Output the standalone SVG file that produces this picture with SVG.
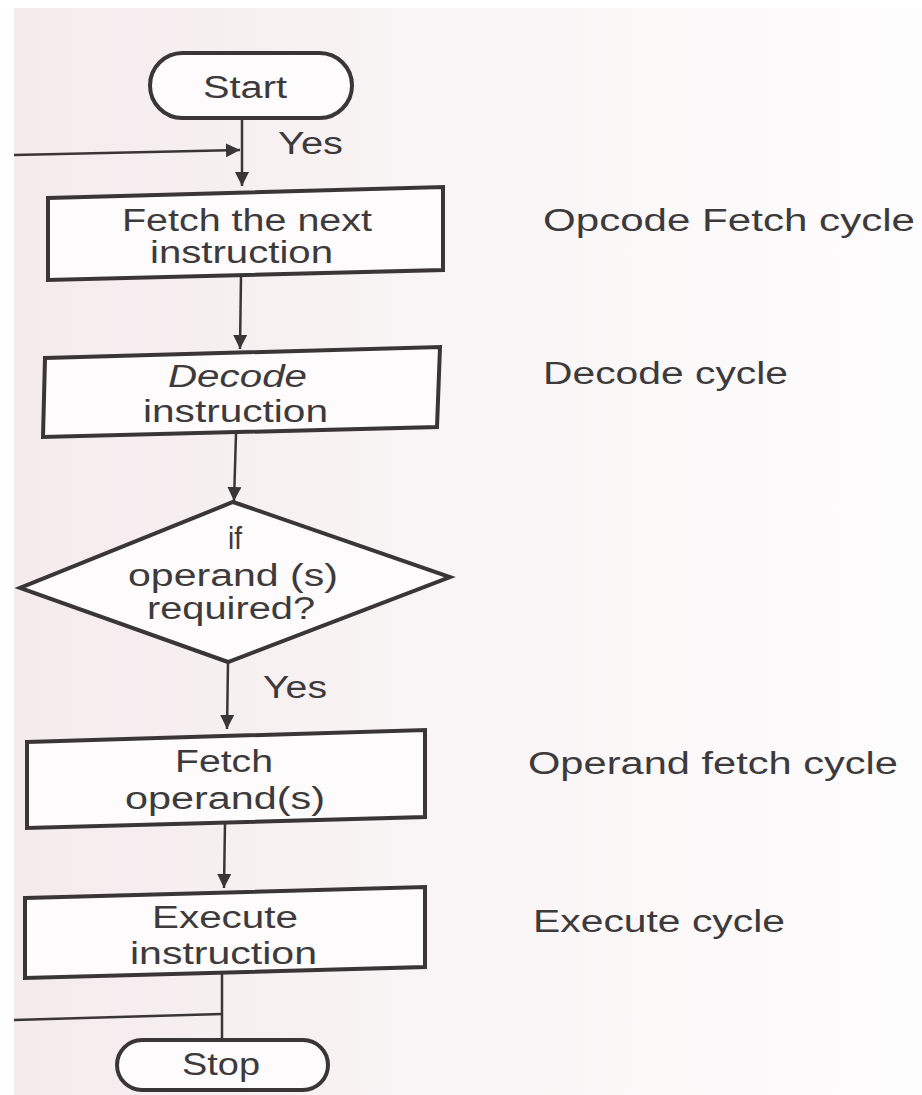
<svg xmlns="http://www.w3.org/2000/svg" width="922" height="1095" viewBox="0 0 922 1095">
  <defs>
    <linearGradient id="paper" x1="0" y1="0" x2="1" y2="0">
      <stop offset="0" stop-color="#f4ebed"/>
      <stop offset="0.45" stop-color="#f9f4f5"/>
      <stop offset="1" stop-color="#fdfcfc"/>
    </linearGradient>
    <marker id="arrow" viewBox="0 0 14 18" refX="14" refY="9" markerWidth="14" markerHeight="18" markerUnits="userSpaceOnUse" orient="auto">
      <path d="M0,2 L14,9 L0,16 Z" fill="#3a3536"/>
    </marker>
    <style>
      .shape { fill: #fdfbfb; stroke: #3a3536; stroke-width: 4; stroke-linejoin: miter; }
      .line { fill: none; stroke: #3a3536; stroke-width: 2.5; }
      .arrow { marker-end: url(#arrow); }
      text { font-family: "Liberation Sans", Arial, sans-serif; font-size: 31px; fill: #3d3a3c; }
      .it { font-style: italic; }
    </style>
  </defs>

  <!-- paper -->
  <rect x="0" y="0" width="922" height="1095" fill="#ffffff"/>
  <rect x="14" y="8" width="908" height="1087" fill="url(#paper)"/>

  <!-- connectors -->
  <g id="connectors">
    <line class="line arrow" x1="242" y1="118" x2="242" y2="186"/>
    <line class="line arrow" x1="14" y1="155" x2="240" y2="150"/>
    <line class="line arrow" x1="241" y1="276" x2="240" y2="349"/>
    <line class="line arrow" x1="236" y1="434" x2="234" y2="501"/>
    <line class="line arrow" x1="228" y1="662" x2="227" y2="729"/>
    <line class="line arrow" x1="225" y1="822" x2="224" y2="888"/>
    <line class="line" x1="222" y1="973" x2="222" y2="1040"/>
    <line class="line" x1="14" y1="1020" x2="222" y2="1014"/>
    <text x="278" y="154" textLength="65" lengthAdjust="spacingAndGlyphs">Yes</text>
    <text x="263" y="698" textLength="64" lengthAdjust="spacingAndGlyphs">Yes</text>
  </g>

  <!-- start terminator -->
  <g id="start">
    <rect class="shape" x="150" y="53" width="202" height="65" rx="32.5" ry="32.5"/>
    <text x="203" y="98" textLength="84" lengthAdjust="spacingAndGlyphs">Start</text>
  </g>

  <!-- opcode fetch -->
  <g id="fetch-instruction">
    <polygon class="shape" points="48,198 443,187 443,270 48,280"/>
    <text x="122" y="231" textLength="250" lengthAdjust="spacingAndGlyphs">Fetch the next</text>
    <text x="150" y="263" textLength="183" lengthAdjust="spacingAndGlyphs">instruction</text>
  </g>

  <!-- decode -->
  <g id="decode-instruction">
    <polygon class="shape" points="45,358 440,347 437,427 43,437"/>
    <text class="it" x="168" y="387" textLength="139" lengthAdjust="spacingAndGlyphs">Decode</text>
    <text x="143" y="422" textLength="185" lengthAdjust="spacingAndGlyphs">instruction</text>
  </g>

  <!-- decision -->
  <g id="operand-check">
    <polygon class="shape" points="233,502 450,577 228,662 20,588"/>
    <text x="228" y="549" textLength="14" lengthAdjust="spacingAndGlyphs">if</text>
    <text x="128" y="586" textLength="210" lengthAdjust="spacingAndGlyphs">operand (s)</text>
    <text x="147" y="619" textLength="168" lengthAdjust="spacingAndGlyphs">required?</text>
  </g>

  <!-- operand fetch -->
  <g id="fetch-operands">
    <polygon class="shape" points="27,742 425,730 425,817 27,828"/>
    <text x="175" y="772" textLength="98" lengthAdjust="spacingAndGlyphs">Fetch</text>
    <text x="125" y="809" textLength="200" lengthAdjust="spacingAndGlyphs">operand(s)</text>
  </g>

  <!-- execute -->
  <g id="execute-instruction">
    <polygon class="shape" points="25,898 425,887 425,967 25,978"/>
    <text x="152" y="928" textLength="146" lengthAdjust="spacingAndGlyphs">Execute</text>
    <text x="130" y="964" textLength="187" lengthAdjust="spacingAndGlyphs">instruction</text>
  </g>

  <!-- stop terminator -->
  <g id="stop">
    <rect class="shape" x="117" y="1040" width="211" height="50" rx="25" ry="25"/>
    <text x="182" y="1075" textLength="78" lengthAdjust="spacingAndGlyphs">Stop</text>
  </g>

  <!-- machine cycle names -->
  <g id="cycle-labels">
    <text x="543" y="231" textLength="372" lengthAdjust="spacingAndGlyphs">Opcode Fetch cycle</text>
    <text x="543" y="384" textLength="245" lengthAdjust="spacingAndGlyphs">Decode cycle</text>
    <text x="528" y="774" textLength="370" lengthAdjust="spacingAndGlyphs">Operand fetch cycle</text>
    <text x="533" y="932" textLength="252" lengthAdjust="spacingAndGlyphs">Execute cycle</text>
  </g>
</svg>
